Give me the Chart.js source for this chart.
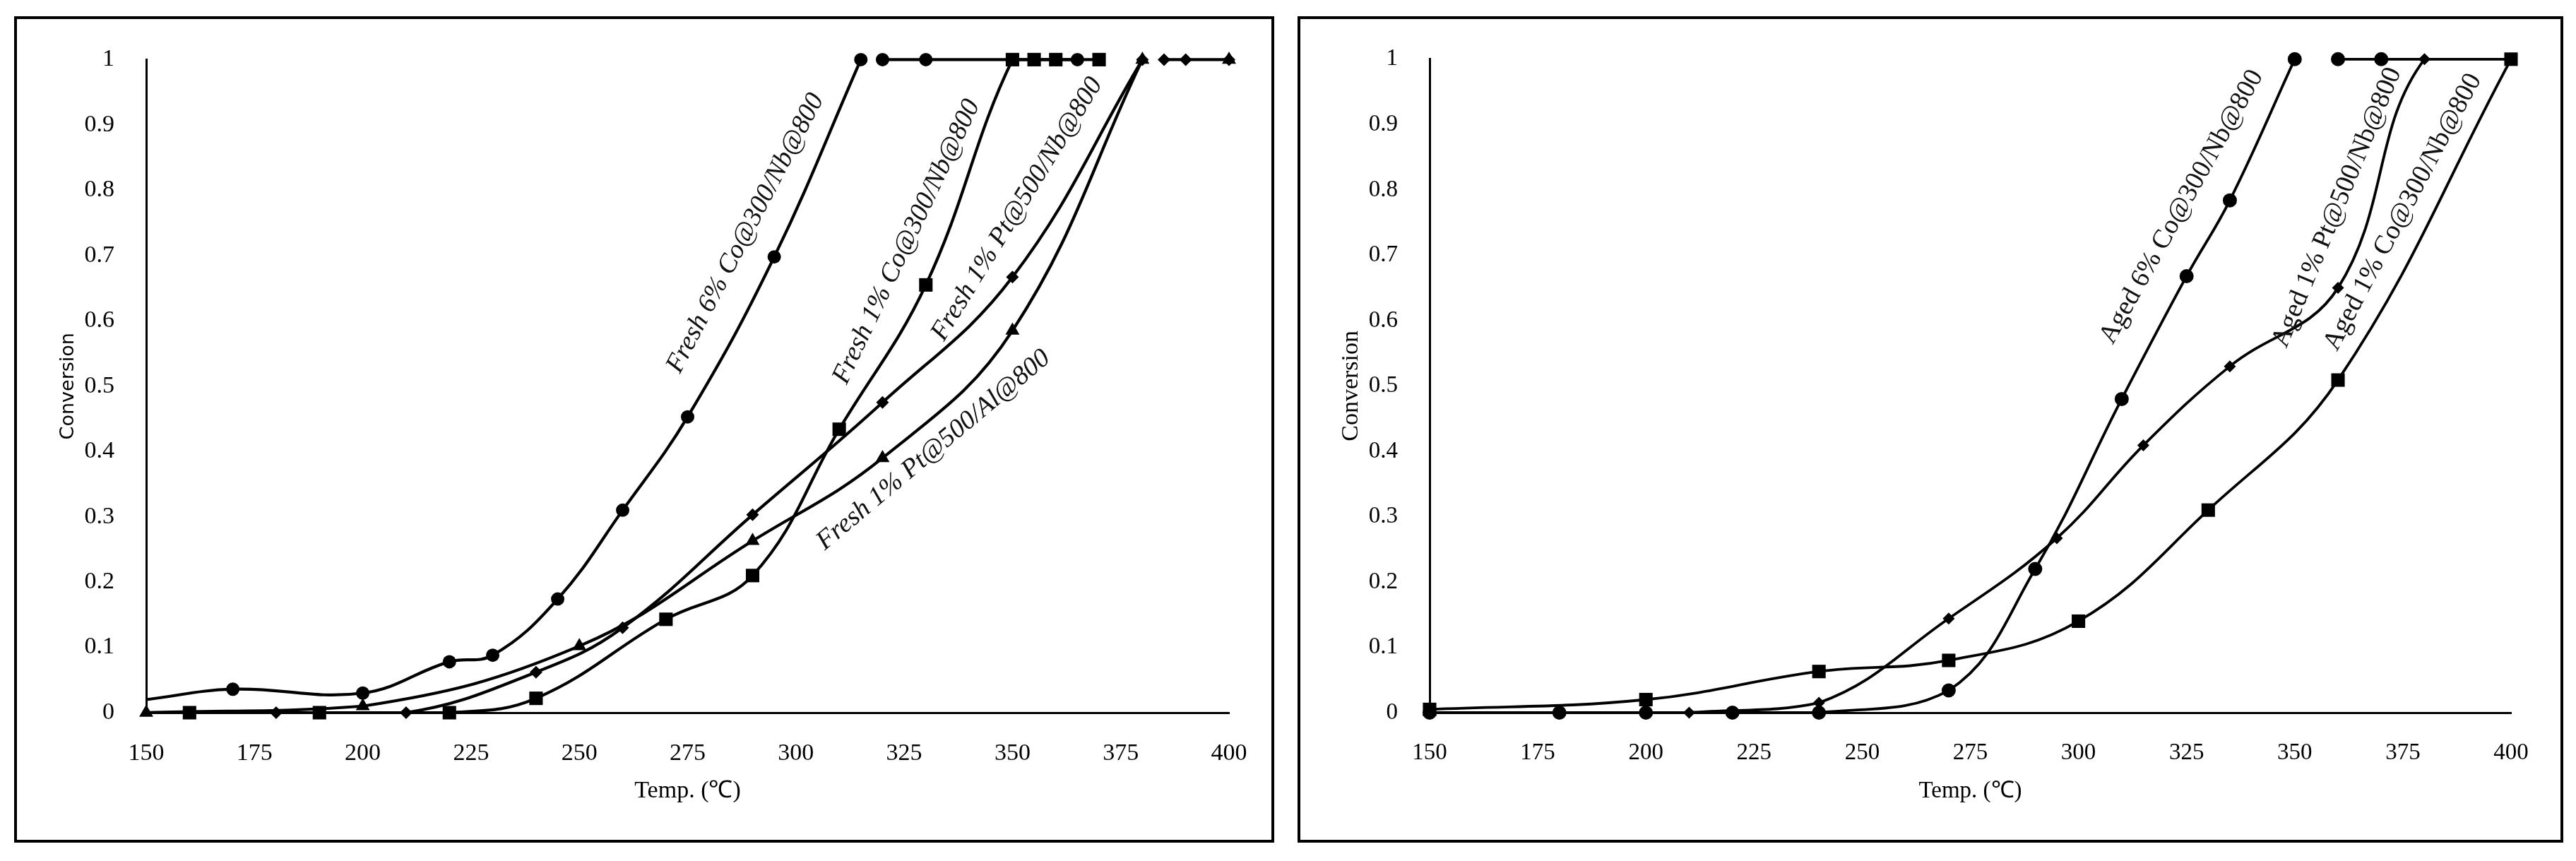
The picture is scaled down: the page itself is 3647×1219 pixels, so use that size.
<!DOCTYPE html>
<html>
<head>
<meta charset="utf-8">
<script src="https://cdn.jsdelivr.net/npm/chart.js@4.4.0/dist/chart.umd.min.js"></script>
<style>
	html, body { margin: 0; padding: 0; background: #fff; }
	body { width: 3647px; height: 1219px; position: relative; overflow: hidden; }
	.frame { position: absolute; border: 4px solid #000; box-sizing: border-box; background: #fff; }
	#frameFresh { left: 20px; top: 23px; width: 1784px; height: 1170px; }
	#frameAged { left: 1837px; top: 23px; width: 1792px; height: 1170px; }
	.frame canvas { position: absolute; left: 0; top: 0; }
</style>
</head>
<body>
<div class="frame" id="frameFresh"><canvas id="fresh" width="1776" height="1162"></canvas></div>
<div class="frame" id="frameAged"><canvas id="aged" width="1784" height="1162"></canvas></div>
<script>
// axis ranges
const tempMin = 150, tempMax = 400, tempStep = 25;
const convMin = 0, convMax = 1, convStep = 0.1;

// fresh catalysts (left panel), null = break in the line
const freshCo6T = [150, 170, 200, 220, 230, 245, 260, 275, 295, 315, 318, 320, 330, 365];
const freshCo6V = [0.02, 0.036, 0.03, 0.078, 0.088, 0.174, 0.31, 0.453, 0.698, 1, null, 1, 1, 1];
const freshCo1T = [160, 190, 220, 240, 270, 290, 310, 330, 350, 355, 360, 370];
const freshCo1V = [0, 0, 0, 0.022, 0.143, 0.21, 0.434, 0.655, 1, 1, 1, 1];
const freshPtNbT = [180, 210, 240, 260, 290, 320, 350, 380, 383, 385, 390, 400];
const freshPtNbV = [0, 0, 0.062, 0.13, 0.303, 0.475, 0.667, 1, null, 1, 1, 1];
const freshPtAlT = [150, 200, 250, 290, 320, 350, 380, 390, 400];
const freshPtAlV = [0, 0.01, 0.102, 0.263, 0.39, 0.585, 1, null, 1];

// aged catalysts (right panel)
const agedCo6T = [150, 180, 200, 220, 240, 270, 290, 310, 325, 335, 350, 355, 360, 370, 380];
const agedCo6V = [0, 0, 0, 0, 0, 0.034, 0.22, 0.48, 0.668, 0.784, 1, null, 1, 1, 1];
const agedPtNbT = [210, 240, 270, 295, 315, 335, 360, 380, 400];
const agedPtNbV = [0, 0.015, 0.144, 0.267, 0.409, 0.53, 0.65, 1, 1];
const agedCo1T = [150, 200, 240, 270, 300, 330, 360, 400];
const agedCo1V = [0.005, 0.02, 0.063, 0.08, 0.14, 0.31, 0.509, 1];

// curve labels: text, anchor (temp, conversion), angle
const freshNames = ['Fresh 6% Co@300/Nb@800', 'Fresh 1% Co@300/Nb@800', 'Fresh 1% Pt@500/Nb@800', 'Fresh 1% Pt@500/Al@800'];
const freshLabelT = [288.4, 325.6, 351.1, 331.8];
const freshLabelV = [0.734, 0.721, 0.771, 0.402];
const freshLabelAngle = [62.4, 64.6, 58.4, 40];
const agedNames = ['Aged 6% Co@300/Nb@800', 'Aged 1% Pt@500/Nb@800', 'Aged 1% Co@300/Nb@800'];
const agedLabelT = [323.9, 359.8, 375.0];
const agedLabelV = [0.774, 0.773, 0.766];
const agedLabelAngle = [60.8, 67.5, 62.1];

function zip(t, v) {
	return t.map((x, i) => ({ x: x, y: v[i] }));
}

function series(label, t, v, style, radius, width, hidden) {
	hidden = hidden || [];
	return {
		label: label,
		data: zip(t, v),
		pointStyle: style,
		pointRadius: ctx => hidden.includes(ctx.dataIndex) ? 0 : radius,
		pointBackgroundColor: '#000',
		pointBorderColor: '#000',
		pointBorderWidth: 0,
		borderColor: '#000',
		borderWidth: width,
		tension: 0.4,
		spanGaps: false,
		clip: false,
		fill: false
	};
}

const curveLabels = {
	id: 'curveLabels',
	afterDatasetsDraw(chart, args, opts) {
		const ctx = chart.ctx;
		const xs = chart.scales.x, ys = chart.scales.y;
		ctx.save();
		ctx.font = opts.font;
		ctx.fillStyle = '#111';
		ctx.textAlign = 'center';
		ctx.textBaseline = 'middle';
		opts.names.forEach((name, i) => {
			ctx.save();
			ctx.translate(xs.getPixelForValue(opts.t[i]), ys.getPixelForValue(opts.v[i]));
			ctx.rotate(-opts.angle[i] * Math.PI / 180);
			ctx.fillText(name, 0, 0);
			ctx.restore();
		});
		ctx.restore();
	}
};

function makeChart(id, datasets, p) {
	return new Chart(document.getElementById(id), {
		type: 'scatter',
		data: { datasets: datasets },
		plugins: [curveLabels],
		options: {
			responsive: false,
			animation: false,
			devicePixelRatio: 1,
			showLine: true,
			layout: { padding: { left: 0, right: p.padRight, top: 45, bottom: 0 } },
			plugins: {
				legend: { display: false },
				tooltip: { enabled: false },
				curveLabels: { font: p.labelFont, names: p.names, t: p.labelT, v: p.labelV, angle: p.labelAngle }
			},
			scales: {
				x: {
					type: 'linear',
					min: tempMin,
					max: tempMax,
					afterFit: s => { s.height = 180; },
					grid: { display: false },
					border: { display: true, color: '#000', width: 3 },
					ticks: {
						stepSize: tempStep,
						padding: 30,
						color: '#000',
						font: { family: 'Liberation Serif', size: p.tickSize }
					},
					title: {
						display: true,
						text: 'Temp. (℃)',
						color: '#000',
						font: { family: 'Liberation Serif', size: p.tickSize },
						padding: { top: 0, bottom: 49 }
					}
				},
				y: {
					type: 'linear',
					min: convMin,
					max: convMax,
					afterFit: s => { s.width = 183; },
					grid: { display: false },
					border: { display: true, color: '#000', width: 3 },
					ticks: {
						stepSize: convStep,
						padding: 37,
						color: '#000',
						font: { family: 'Liberation Serif', size: p.tickSize },
						callback: v => String(+v.toFixed(1))
					},
					title: {
						display: true,
						text: 'Conversion',
						color: '#000',
						font: { family: p.yTitleFamily, size: p.yTitleSize },
						padding: { top: p.yTitlePad, bottom: 0 }
					}
				}
			}
		}
	});
}

makeChart('fresh', [
	series('Fresh 6% Co@300/Nb@800', freshCo6T, freshCo6V, 'circle', 9.5, 4.2, [0]),
	series('Fresh 1% Co@300/Nb@800', freshCo1T, freshCo1V, 'rect', 13.5, 4.2),
	series('Fresh 1% Pt@500/Nb@800', freshPtNbT, freshPtNbV, 'rectRot', 9, 4.2),
	series('Fresh 1% Pt@500/Al@800', freshPtAlT, freshPtAlV, 'triangle', 11.5, 4.2)
], {
	padRight: 60, tickSize: 34,
	yTitleFamily: 'DejaVu Sans', yTitleSize: 27, yTitlePad: 57,
	labelFont: 'italic 38px "Liberation Serif"',
	names: freshNames, labelT: freshLabelT, labelV: freshLabelV, labelAngle: freshLabelAngle
});

makeChart('aged', [
	series('Aged 1% Co@300/Nb@800', agedCo1T, agedCo1V, 'rect', 13.5, 3.8),
	series('Aged 1% Pt@500/Nb@800', agedPtNbT, agedPtNbV, 'rectRot', 8.5, 3.8),
	series('Aged 6% Co@300/Nb@800', agedCo6T, agedCo6V, 'circle', 10, 3.8, [14])
], {
	padRight: 70, tickSize: 33,
	yTitleFamily: 'Liberation Serif', yTitleSize: 34, yTitlePad: 52,
	labelFont: '38px "Liberation Serif"',
	names: agedNames, labelT: agedLabelT, labelV: agedLabelV, labelAngle: agedLabelAngle
});
</script>
</body>
</html>
